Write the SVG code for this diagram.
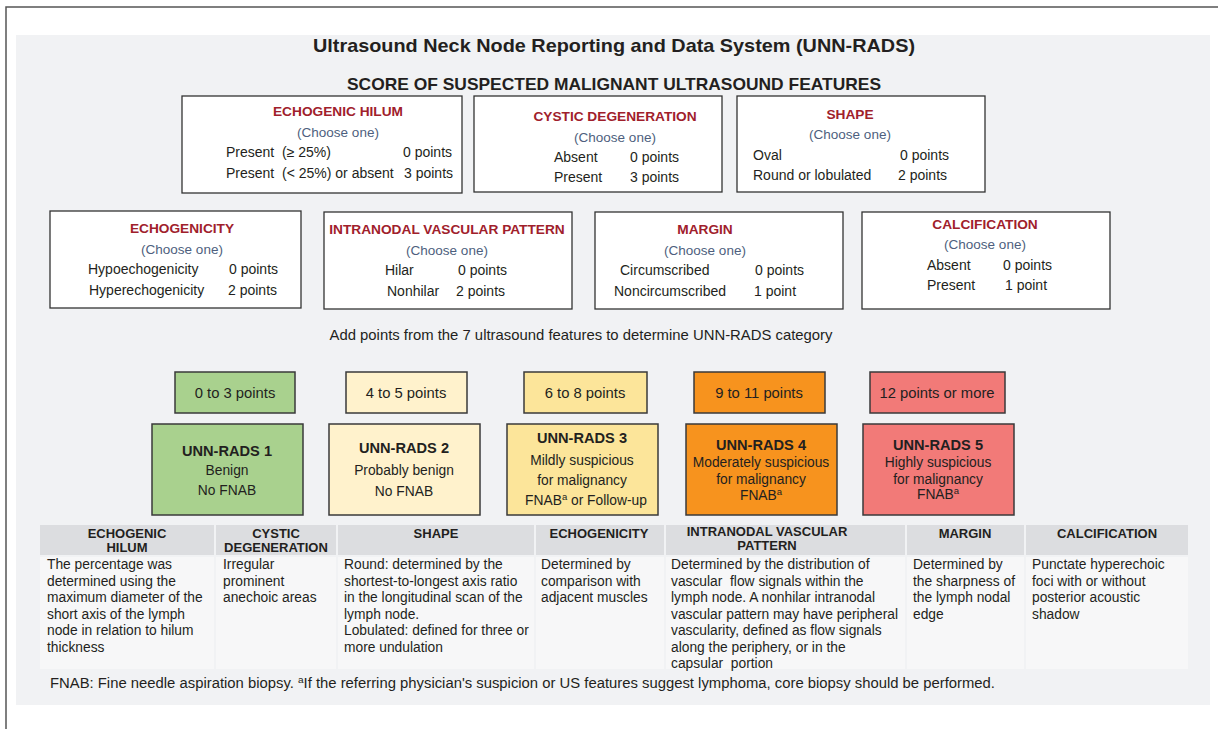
<svg xmlns="http://www.w3.org/2000/svg" width="1218" height="729" viewBox="0 0 1218 729">
<style>
text{font-family:"Liberation Sans",Arial,sans-serif;fill:#231f20}
.t{font-size:19px;font-weight:bold;text-anchor:middle}
.st{font-size:17px;font-weight:bold;text-anchor:middle}
.fb{fill:#fff;stroke:#333;stroke-width:1.3}
.fh{font-size:13.7px;font-weight:bold;fill:#a0202b;text-anchor:middle}
.ch{font-size:13.5px;fill:#4e5f7e;text-anchor:middle}
.o{font-size:14px}
.pb{stroke:#3a3a3a;stroke-width:1.5}
.pt{font-size:14.8px;text-anchor:middle}
.cb{font-size:14.6px;font-weight:bold;text-anchor:middle}
.cl{font-size:13.8px;text-anchor:middle}
.th{font-size:13px;font-weight:bold;text-anchor:middle}
.tb{font-size:13.8px}
.sup{font-size:9.5px}
</style>
<rect x="0" y="0" width="1218" height="729" fill="#fff"/>
<path d="M6 729V7H1218" fill="none" stroke="#555" stroke-width="1.5"/>
<rect x="16" y="35" width="1194" height="670" fill="#f1f2f4"/>
<text class="t" x="614" y="52" textLength="602" lengthAdjust="spacingAndGlyphs">Ultrasound Neck Node Reporting and Data System (UNN-RADS)</text>
<text class="st" x="614" y="90" textLength="534" lengthAdjust="spacingAndGlyphs">SCORE OF SUSPECTED MALIGNANT ULTRASOUND FEATURES</text>

<g id="echogenic-hilum">
<rect class="fb" x="182" y="96" width="280" height="97"/>
<text class="fh" x="338" y="116">ECHOGENIC HILUM</text>
<text class="ch" x="338" y="137">(Choose one)</text>
<text class="o" x="226" y="157" xml:space="preserve">Present  (≥ 25%)</text><text class="o" x="403" y="157">0 points</text>
<text class="o" x="226" y="178" xml:space="preserve">Present  (&lt; 25%) or absent</text><text class="o" x="404" y="178">3 points</text>
</g>
<g id="cystic-degeneration">
<rect class="fb" x="474" y="96" width="248" height="96"/>
<text class="fh" x="615" y="121">CYSTIC DEGENERATION</text>
<text class="ch" x="615" y="142">(Choose one)</text>
<text class="o" x="554" y="162">Absent</text><text class="o" x="630" y="162">0 points</text>
<text class="o" x="554" y="182">Present</text><text class="o" x="630" y="182">3 points</text>
</g>
<g id="shape">
<rect class="fb" x="737" y="96" width="248" height="96"/>
<text class="fh" x="850" y="119">SHAPE</text>
<text class="ch" x="850" y="139">(Choose one)</text>
<text class="o" x="753" y="160">Oval</text><text class="o" x="900" y="160">0 points</text>
<text class="o" x="753" y="180">Round or lobulated</text><text class="o" x="898" y="180">2 points</text>
</g>
<g id="echogenicity">
<rect class="fb" x="50" y="211" width="251" height="97"/>
<text class="fh" x="182" y="233">ECHOGENICITY</text>
<text class="ch" x="182" y="254">(Choose one)</text>
<text class="o" x="88" y="274">Hypoechogenicity</text><text class="o" x="229" y="274">0 points</text>
<text class="o" x="89" y="295">Hyperechogenicity</text><text class="o" x="228" y="295">2 points</text>
</g>
<g id="intranodal-vascular-pattern">
<rect class="fb" x="324" y="212" width="248" height="97"/>
<text class="fh" x="447" y="234">INTRANODAL VASCULAR PATTERN</text>
<text class="ch" x="447" y="255">(Choose one)</text>
<text class="o" x="385" y="275">Hilar</text><text class="o" x="458" y="275">0 points</text>
<text class="o" x="387" y="296">Nonhilar</text><text class="o" x="456" y="296">2 points</text>
</g>
<g id="margin">
<rect class="fb" x="595" y="212" width="248" height="97"/>
<text class="fh" x="705" y="234">MARGIN</text>
<text class="ch" x="705" y="255">(Choose one)</text>
<text class="o" x="620" y="275">Circumscribed</text><text class="o" x="755" y="275">0 points</text>
<text class="o" x="614" y="296">Noncircumscribed</text><text class="o" x="754" y="296">1 point</text>
</g>
<g id="calcification">
<rect class="fb" x="862" y="212" width="248" height="97"/>
<text class="fh" x="985" y="229">CALCIFICATION</text>
<text class="ch" x="985" y="249">(Choose one)</text>
<text class="o" x="927" y="270">Absent</text><text class="o" x="1003" y="270">0 points</text>
<text class="o" x="927" y="290">Present</text><text class="o" x="1005" y="290">1 point</text>
</g>

<text x="581" y="340" font-size="14.5" text-anchor="middle" textLength="503" lengthAdjust="spacingAndGlyphs">Add points from the 7 ultrasound features to determine UNN-RADS category</text>

<g id="points-0-3"><rect class="pb" x="175" y="372" width="120" height="41" fill="#a9d18e"/><text class="pt" x="235" y="398">0 to 3 points</text></g>
<g id="points-4-5"><rect class="pb" x="346" y="372" width="121" height="41" fill="#fff2cc"/><text class="pt" x="406" y="398">4 to 5 points</text></g>
<g id="points-6-8"><rect class="pb" x="524" y="372" width="123" height="41" fill="#fce59a"/><text class="pt" x="585" y="398">6 to 8 points</text></g>
<g id="points-9-11"><rect class="pb" x="694" y="372" width="131" height="41" fill="#f7931e"/><text class="pt" x="759" y="398">9 to 11 points</text></g>
<g id="points-12"><rect class="pb" x="870" y="372" width="135" height="41" fill="#f27a78"/><text class="pt" x="937" y="398">12 points or more</text></g>

<g id="unn-rads-1"><rect class="pb" x="152" y="424" width="151" height="91" fill="#a9d18e"/>
<text class="cb" x="227" y="456">UNN-RADS 1</text><text class="cl" x="227" y="475">Benign</text><text class="cl" x="227" y="495">No FNAB</text></g>
<g id="unn-rads-2"><rect class="pb" x="329" y="424" width="151" height="91" fill="#fff2cc"/>
<text class="cb" x="404" y="453">UNN-RADS 2</text><text class="cl" x="404" y="475">Probably benign</text><text class="cl" x="404" y="496">No FNAB</text></g>
<g id="unn-rads-3"><rect class="pb" x="507" y="424" width="151" height="91" fill="#fce59a"/>
<text class="cb" x="582" y="443">UNN-RADS 3</text><text class="cl" x="582" y="465">Mildly suspicious</text><text class="cl" x="582" y="485">for malignancy</text><text class="cl" x="586" y="505" font-size="14.5">FNAB<tspan class="sup" dy="-5">a</tspan><tspan dy="5"> or Follow-up</tspan></text></g>
<g id="unn-rads-4"><rect class="pb" x="686" y="424" width="151" height="91" fill="#f7931e"/>
<text class="cb" x="761" y="450">UNN-RADS 4</text><text class="cl" x="761" y="467">Moderately suspicious</text><text class="cl" x="761" y="484">for malignancy</text><text class="cl" x="761" y="500">FNAB<tspan class="sup" dy="-5">a</tspan></text></g>
<g id="unn-rads-5"><rect class="pb" x="863" y="424" width="151" height="91" fill="#f27a78"/>
<text class="cb" x="938" y="450">UNN-RADS 5</text><text class="cl" x="938" y="467">Highly suspicious</text><text class="cl" x="938" y="484">for malignancy</text><text class="cl" x="938" y="499">FNAB<tspan class="sup" dy="-5">a</tspan></text></g>

<g id="table">
<g fill="#dcdde0">
<rect x="40" y="525" width="174" height="30"/><rect x="216" y="525" width="120" height="30"/><rect x="338" y="525" width="196" height="30"/><rect x="536" y="525" width="128" height="30"/><rect x="666" y="525" width="239" height="30"/><rect x="907" y="525" width="117" height="30"/><rect x="1026" y="525" width="162" height="30"/>
</g>
<g fill="#f7f7f8">
<rect x="40" y="557" width="174" height="112"/><rect x="216" y="557" width="120" height="112"/><rect x="338" y="557" width="196" height="112"/><rect x="536" y="557" width="128" height="112"/><rect x="666" y="557" width="239" height="112"/><rect x="907" y="557" width="117" height="112"/><rect x="1026" y="557" width="162" height="112"/>
</g>
<text class="th" x="127" y="538">ECHOGENIC</text><text class="th" x="127" y="552">HILUM</text>
<text class="th" x="276" y="538">CYSTIC</text><text class="th" x="276" y="552">DEGENERATION</text>
<text class="th" x="436" y="538">SHAPE</text>
<text class="th" x="599" y="538">ECHOGENICITY</text>
<text class="th" x="767" y="536">INTRANODAL VASCULAR</text><text class="th" x="767" y="550">PATTERN</text>
<text class="th" x="965" y="538">MARGIN</text>
<text class="th" x="1107" y="538">CALCIFICATION</text>
<text class="tb" x="47" y="569">The percentage was<tspan x="47" dy="16.5">determined using the</tspan><tspan x="47" dy="16.5">maximum diameter of the</tspan><tspan x="47" dy="16.5">short axis of the lymph</tspan><tspan x="47" dy="16.5">node in relation to hilum</tspan><tspan x="47" dy="16.5">thickness</tspan></text>
<text class="tb" x="223" y="569">Irregular<tspan x="223" dy="16.5">prominent</tspan><tspan x="223" dy="16.5">anechoic areas</tspan></text>
<text class="tb" x="344" y="569">Round: determined by the<tspan x="344" dy="16.5">shortest-to-longest axis ratio</tspan><tspan x="344" dy="16.5">in the longitudinal scan of the</tspan><tspan x="344" dy="16.5">lymph node.</tspan><tspan x="344" dy="16.5">Lobulated: defined for three or</tspan><tspan x="344" dy="16.5">more undulation</tspan></text>
<text class="tb" x="541" y="569">Determined by<tspan x="541" dy="16.5">comparison with</tspan><tspan x="541" dy="16.5">adjacent muscles</tspan></text>
<text class="tb" x="671" y="569" xml:space="preserve">Determined by the distribution of<tspan x="671" dy="16.5">vascular  flow signals within the</tspan><tspan x="671" dy="16.5">lymph node. A nonhilar intranodal</tspan><tspan x="671" dy="16.5">vascular pattern may have peripheral</tspan><tspan x="671" dy="16.5">vascularity, defined as flow signals</tspan><tspan x="671" dy="16.5">along the periphery, or in the</tspan><tspan x="671" dy="16.5">capsular  portion</tspan></text>
<text class="tb" x="913" y="569">Determined by<tspan x="913" dy="16.5">the sharpness of</tspan><tspan x="913" dy="16.5">the lymph nodal</tspan><tspan x="913" dy="16.5">edge</tspan></text>
<text class="tb" x="1032" y="569">Punctate hyperechoic<tspan x="1032" dy="16.5">foci with or without</tspan><tspan x="1032" dy="16.5">posterior acoustic</tspan><tspan x="1032" dy="16.5">shadow</tspan></text>
</g>
<text x="50" y="688" font-size="14" textLength="945" lengthAdjust="spacingAndGlyphs">FNAB: Fine needle aspiration biopsy. <tspan class="sup" dy="-5">a</tspan><tspan dy="5">If the referring physician's suspicion or US features suggest lymphoma, core biopsy should be performed.</tspan></text>
</svg>
